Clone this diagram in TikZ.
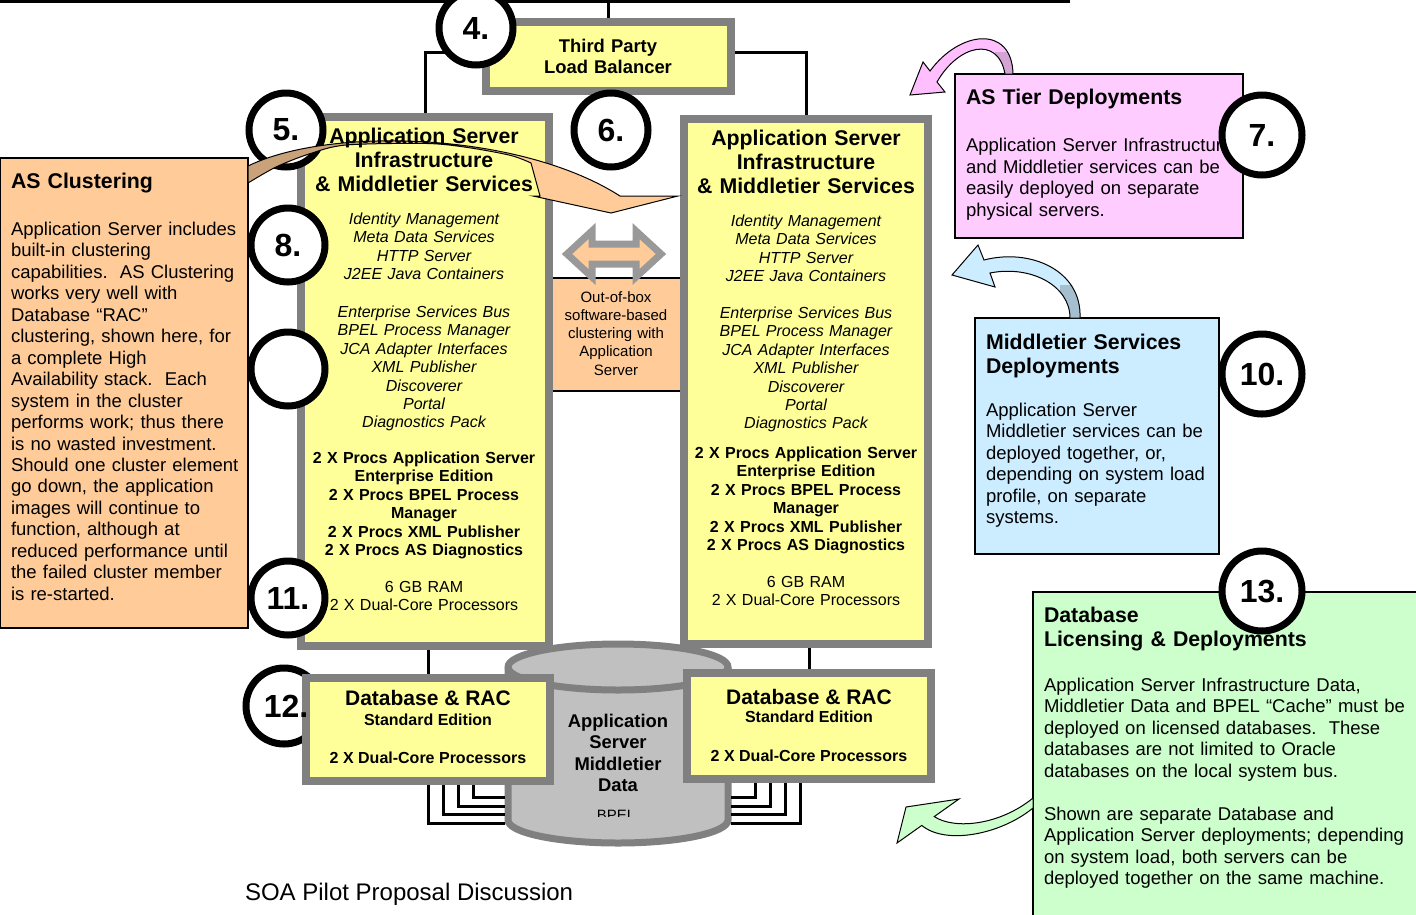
\documentclass[tikz,border=0pt]{standalone}
\usepackage{fontspec}
\setmainfont{Liberation Sans}
\usetikzlibrary{calc}
\definecolor{yel}{HTML}{FFFF99}
\definecolor{bordgray}{HTML}{808080}
\definecolor{org}{HTML}{FFCC99}
\definecolor{orgdark}{HTML}{C9A27A}
\definecolor{pinkbox}{HTML}{FFCCFF}
\definecolor{pinkarr}{HTML}{FFBFFF}
\definecolor{pinkdark}{HTML}{D4A5D4}
\definecolor{bluebox}{HTML}{CCECFF}
\definecolor{bluedark}{HTML}{A5BFD0}
\definecolor{greenbox}{HTML}{CCFFCC}
\definecolor{cylfill}{HTML}{C0C0C0}
\definecolor{dblarr}{HTML}{999999}
\newcommand{\myfs}[2]{\fontsize{#1}{#2}\selectfont}
\tikzset{
 graybox/.style={rectangle, draw=bordgray, fill=yel, line width=8pt, inner sep=0pt},
 notebox/.style={rectangle, draw=black, line width=1.2pt, inner sep=0pt},
 conn/.style={draw=black, line width=3pt},
 numcirc/.style={circle, draw=black, fill=white, line width=7pt, inner sep=0pt, font=\myfs{32}{36}\bfseries},
 numtxt/.style={inner sep=0pt, font=\myfs{32}{36}\bfseries},
 txt/.style={inner sep=0pt, outer sep=0pt},
 ctxt/.style={txt, anchor=north, align=center, text width=300pt},
 ltxt/.style={txt, anchor=north west, align=left, text width=420pt},
 arrline/.style={draw=black, line width=1pt},
 bigarr/.style={insert path={(248,166) .. controls (330,126) and (520,132) .. (620,196) -- (678,196) -- (611,213) -- (533,196) -- (540,196) -- plot[smooth, tension=0.5] coordinates {(531,163) (511,155.5) (469,147.7) (427,143.5) (346,145) (309,154) (276,167) (248,183)} -- cycle}},
 pinkpath/.style={insert path={(923,62) -- (910,95) -- (945,92) -- (937,82) .. controls (958,45) and (998,35) .. (1005,74) -- (1013,74) .. controls (1012,25) and (960,30) .. (930,71) -- cycle}},
 bluepath/.style={insert path={(978,245) -- (952,275) -- (995,287) -- (990,273) .. controls (1030,265) and (1070,285) .. (1070,318) -- (1080,318) .. controls (1082,270) and (1030,248) .. (984,260) -- cycle}},
 greenpath/.style={insert path={(959,799) -- (906,807) -- (897,843) -- (921.8,825.4) .. controls (945,845) and (1000,835) .. (1033,808) -- (1033,798) .. controls (1000,825) and (955,830) .. (934.2,816.6) -- cycle}},
}
\begin{document}
\begin{tikzpicture}[x=1pt,y=-1pt]
\useasboundingbox (0,0) rectangle (1416,914);

% middle orange strip
\node[fill=org, inner sep=0pt, minimum width=135pt, minimum height=113pt] (mid) at (616.5,334.5) {};
\draw[line width=1.5pt] (mid.north west) -- (mid.north east);
\draw[line width=1.5pt] (mid.south west) -- (mid.south east);

% main boxes
\node[graybox, minimum width=245pt, minimum height=69pt] (lb) at (608.5,56.5) {};
\node[graybox, minimum width=248pt, minimum height=529pt] (asl) at (425,381.5) {};
\node[graybox, minimum width=244pt, minimum height=525pt] (asr) at (806,381.5) {};

% note boxes
\node[notebox, fill=org, minimum width=248pt, minimum height=470pt] (asclu) at (124,393) {};
\node[notebox, fill=pinkbox, minimum width=288pt, minimum height=164pt] (astier) at (1099,156) {};
\node[notebox, fill=bluebox, minimum width=244pt, minimum height=236pt] (mwdep) at (1097,436) {};
\node[notebox, fill=greenbox, minimum width=397pt, minimum height=338pt] (dblic) at (1231.5,761) {};

% double arrow
\draw[draw=dblarr, fill=org, line width=7pt, line join=miter] (567,254) -- (592,231) -- (592,244) -- (636,244) -- (636,231) -- (661,254) -- (636,277) -- (636,264) -- (592,264) -- (592,277) -- cycle;

% cylinder
\coordinate (cyl) at (618,743);
\draw[draw=bordgray, fill=cylfill, line width=7pt] (508,667) -- (508,820) arc[start angle=180, end angle=360, x radius=110pt, y radius=23pt] -- (728,667) arc[start angle=0, end angle=180, x radius=110pt, y radius=23pt] -- cycle;
\draw[draw=bordgray, line width=7pt] (508,667) arc[start angle=180, end angle=360, x radius=110pt, y radius=23pt];
\node[ctxt, font=\myfs{18.4}{21.3}\bfseries] (cylt) at (618,712.6) {\strut Application\\Server\\Middletier\\Data};
\begin{scope}
\clip (560,800) rectangle (680,816);
\node[txt, anchor=base, font=\myfs{15}{18}] (bpel) at (616,820) {BPEL};
\end{scope}

% circle 12 (behind DB box)
\node[numcirc, minimum size=76pt] (c12) at (284,706) {};

% DB boxes
\node[graybox, minimum width=244pt, minimum height=103pt] (dbl) at (428,729.5) {};
\node[graybox, minimum width=244pt, minimum height=106pt] (dbr) at (809,726) {};

% connectors
\coordinate (topL) at (0,1);
\coordinate (topR) at (1070,1);
\coordinate (y52) at (0,52);
\draw[conn] (topL) -- (topR);
\draw[conn] (lb.north) -- (lb.north |- topL);
\draw[conn] (lb.west |- y52) -| (asl.north);
\draw[conn] (lb.east |- y52) -| (asr.north);
\draw[conn] (asl.south -| dbl.north) -- (dbl.north);
\draw[conn] (asr.south -| dbr.north) -- (dbr.north);
\foreach \i/\dx/\yy in {1/0/823,2/15/814,3/30/806,4/45/797}{
  \coordinate (ll\i) at (505,\yy);
  \draw[conn] ([xshift=\dx pt]dbl.south) |- (ll\i);
}
\foreach \i/\dx/\yy in {1/-9/823,2/-24/814,3/-39/806,4/-54/797}{
  \coordinate (rl\i) at (731,\yy);
  \draw[conn] ([xshift=\dx pt]dbr.south) |- (rl\i);
}

% circles (those not covering text)
\node[numcirc, minimum size=74pt] (c4) at (476,28) {4.};
\node[numcirc, minimum size=74pt] (c5) at (286,130) {5.};
\node[numcirc, minimum size=74pt] (c6) at (611,130) {6.};
\node[numcirc, minimum size=74pt] (c8) at (288,245) {8.};
\node[numcirc, minimum size=74pt] (c9) at (288,369) {};
\node[numcirc, minimum size=80pt] (c10) at (1262,374) {10.};
\node[numcirc, minimum size=74pt] (c11) at (288,598) {11.};

% big curved arrow (AS clustering)
\begin{scope}
\clip (240,100) rectangle (390,220);
\path[fill=orgdark, bigarr];
\end{scope}
\begin{scope}
\clip (390,100) rectangle (700,220);
\path[fill=org, bigarr];
\end{scope}
\path[arrline, bigarr];

% texts in boxes
\node[numtxt] (n12) at (286,706) {12.};
\node[ctxt, font=\myfs{18.4}{21}\bfseries] (lbt) at (608,37.8) {\strut Third Party\\Load Balancer};
\node[ctxt, font=\myfs{15}{18.3}] (midt) at (616,289.2) {\strut Out-of-box\\software-based\\clustering with\\Application\\Server};

\node[ctxt, font=\myfs{21.3}{24}\bfseries] (aslt) at (424,126.7) {\strut Application Server\\Infrastructure\\\& Middletier Services};
\node[ctxt, font=\myfs{16}{18.4}\itshape] (asli1) at (424,211.7) {\strut Identity Management\\Meta Data Services\\HTTP Server\\J2EE Java Containers};
\node[ctxt, font=\myfs{16}{18.4}\itshape] (asli2) at (424,304.7) {\strut Enterprise Services Bus\\BPEL Process Manager\\JCA Adapter Interfaces\\XML Publisher\\Discoverer\\Portal\\Diagnostics Pack};
\node[ctxt, font=\myfs{16}{18.4}\bfseries] (aslb) at (424,450.7) {\strut 2 X Procs Application Server\\Enterprise Edition\\2 X Procs BPEL Process\\Manager\\2 X Procs XML Publisher\\2 X Procs AS Diagnostics};
\node[ctxt, font=\myfs{16}{18.4}] (aslr) at (424,579.7) {\strut 6 GB RAM\\2 X Dual-Core Processors};

\node[ctxt, font=\myfs{21.3}{24}\bfseries] (asrt) at (806,128.7) {\strut Application Server\\Infrastructure\\\& Middletier Services};
\node[ctxt, font=\myfs{16}{18.4}\itshape] (asri1) at (806,213.7) {\strut Identity Management\\Meta Data Services\\HTTP Server\\J2EE Java Containers};
\node[ctxt, font=\myfs{16}{18.4}\itshape] (asri2) at (806,305.7) {\strut Enterprise Services Bus\\BPEL Process Manager\\JCA Adapter Interfaces\\XML Publisher\\Discoverer\\Portal\\Diagnostics Pack};
\node[ctxt, font=\myfs{16}{18.4}\bfseries] (asrb) at (806,445.7) {\strut 2 X Procs Application Server\\Enterprise Edition\\2 X Procs BPEL Process\\Manager\\2 X Procs XML Publisher\\2 X Procs AS Diagnostics};
\node[ctxt, font=\myfs{16}{18.4}] (asrr) at (806,574.7) {\strut 6 GB RAM\\2 X Dual-Core Processors};

\node[txt, anchor=base, font=\myfs{21}{24}\bfseries] (dblt1) at (428,705.5) {Database \& RAC};
\node[txt, anchor=base, font=\myfs{16}{18}\bfseries] (dblt2) at (428,725.6) {Standard Edition};
\node[txt, anchor=base, font=\myfs{16}{18}\bfseries] (dblt3) at (428,763.6) {2 X Dual-Core Processors};
\node[txt, anchor=base, font=\myfs{21}{24}\bfseries] (dbrt1) at (809,704.5) {Database \& RAC};
\node[txt, anchor=base, font=\myfs{16}{18}\bfseries] (dbrt2) at (809,722.6) {Standard Edition};
\node[txt, anchor=base, font=\myfs{16}{18}\bfseries] (dbrt3) at (809,761.6) {2 X Dual-Core Processors};

\node[ltxt, font=\myfs{21.3}{24}\bfseries] (asclut) at (11,171.7) {\strut AS Clustering};
\node[ltxt, font=\myfs{18.5}{21.45}] (asclub) at (11,220.5) {\strut Application Server includes\\built-in clustering\\capabilities.\ \ AS Clustering\\works very well with\\Database “RAC”\\clustering, shown here, for\\a complete High\\Availability stack.\ \ Each\\system in the cluster\\performs work; thus there\\is no wasted investment.\\Should one cluster element\\go down, the application\\images will continue to\\function, although at\\reduced performance until\\the failed cluster member\\is re-started.};

\node[ltxt, font=\myfs{21.3}{24}\bfseries] (astiert) at (966,87.7) {\strut AS Tier Deployments};
\node[ltxt, font=\myfs{18.5}{21.5}] (astierb) at (966,136.5) {\strut Application Server Infrastructure\\and Middletier services can be\\easily deployed on separate\\physical servers.};

\node[ltxt, font=\myfs{21.3}{24}\bfseries] (mwdept) at (986,332.7) {\strut Middletier Services\\Deployments};
\node[ltxt, font=\myfs{18.5}{21.45}] (mwdepb) at (986,401.5) {\strut Application Server\\Middletier services can be\\deployed together, or,\\depending on system load\\profile, on separate\\systems.};

\node[ltxt, font=\myfs{21.3}{24}\bfseries] (dblict) at (1044,605.7) {\strut Database\\Licensing \& Deployments};
\node[ltxt, font=\myfs{18.5}{21.45}] (dblicb1) at (1044,676.5) {\strut Application Server Infrastructure Data,\\Middletier Data and BPEL “Cache” must be\\deployed on licensed databases.\ \ These\\databases are not limited to Oracle\\databases on the local system bus.};
\node[ltxt, font=\myfs{18.5}{21.45}] (dblicb2) at (1044,805.5) {\strut Shown are separate Database and\\Application Server deployments; depending\\on system load, both servers can be\\deployed together on the same machine.};

\node[txt, anchor=base west, font=\myfs{24}{28}] (foot) at (245,900) {SOA Pilot Proposal Discussion};

% circles covering text
\node[numcirc, minimum size=80pt] (c7) at (1262,135) {7.};
\node[numcirc, minimum size=80pt] (c13) at (1262,591) {13.};

% pink arrow
\path[fill=pinkarr, pinkpath];
\begin{scope}
\clip (995,52) rectangle (1020,76);
\path[fill=pinkdark, pinkpath];
\end{scope}
\path[arrline, pinkpath];

% blue arrow
\path[fill=bluebox, bluepath];
\begin{scope}
\clip (1060,285) rectangle (1090,320);
\path[fill=bluedark, bluepath];
\end{scope}
\path[arrline, bluepath];

% green arrow
\path[fill=greenbox, arrline, greenpath];
\end{tikzpicture}
\end{document}
